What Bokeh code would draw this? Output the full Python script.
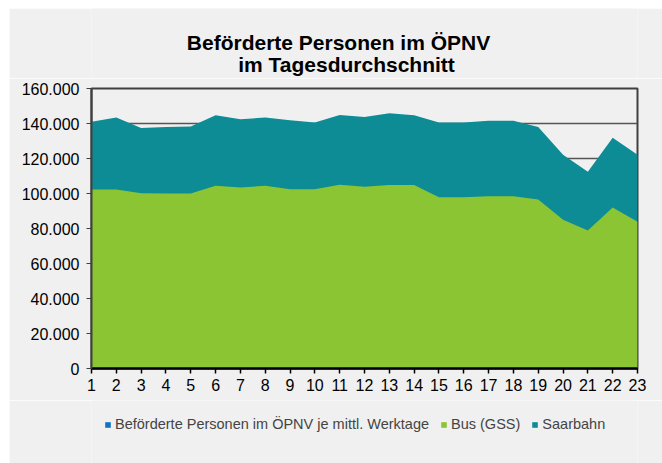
from bokeh.plotting import figure
from bokeh.models import (ColumnDataSource, FixedTicker, Legend, LegendItem, Label, Range1d, Spacer)
from bokeh.layouts import column, row
from bokeh.embed import file_html
from bokeh.resources import INLINE

# ---- data ----
months = list(range(1, 24))
bus = [102.3, 102.3, 100.2, 100.0, 100.0, 104.4, 103.4, 104.4, 102.5, 102.5, 105.0,
       103.8, 104.8, 104.8, 97.8, 97.8, 98.5, 98.5, 96.6, 85.0, 78.8, 92.0, 83.8]
total = [141.0, 143.4, 137.5, 138.0, 138.3, 144.7, 142.5, 143.4, 141.9, 140.6, 144.9,
         143.7, 145.8, 144.7, 140.6, 140.6, 141.6, 141.6, 138.0, 122.1, 112.4, 131.8, 122.1]
bus = [v * 1000 for v in bus]
total = [v * 1000 for v in total]
y_ticks = [0, 20000, 40000, 60000, 80000, 100000, 120000, 140000, 160000]
y_tick_labels = ["0", "20.000", "40.000", "60.000", "80.000", "100.000", "120.000", "140.000", "160.000"]
title_lines = ["Beförderte Personen im ÖPNV", "im Tagesdurchschnitt"]
legend_labels = ["Beförderte Personen im ÖPNV je mittl. Werktage", "Bus (GSS)", "Saarbahn"]

FONT = "Liberation Sans"
BG = "#f0f0f0"
GREEN = "#8cc534"
TEAL = "#0d8c96"
BLUE = "#0f74c4"

src = ColumnDataSource(dict(x=months, bus=bus, total=total, zero=[0] * len(months)))

x_range = Range1d(1, 23)

# ---- title strip ----
tf = figure(width=653, height=70, output_backend="svg", toolbar_location=None,
            x_range=x_range, y_range=Range1d(0, 1),
            min_border_left=0, min_border_right=0, min_border_top=0, min_border_bottom=0)
tf.axis.visible = False
tf.grid.visible = False
tf.outline_line_color = None
tf.background_fill_color = BG
tf.border_fill_color = BG
for line, xoff, yoff in zip(title_lines, [-26, -18], [36, 14]):
    tf.add_layout(Label(x=12, y=0, x_offset=xoff, y_offset=yoff, text=line,
                        text_font=FONT, text_font_size="21px", text_font_style="bold",
                        text_align="center", text_baseline="alphabetic", text_color="black"))

# ---- main chart ----
p = figure(width=653, height=322, output_backend="svg", toolbar_location=None,
           x_range=x_range, y_range=Range1d(0, 160000),
           min_border_left=82, min_border_right=25, min_border_top=10, min_border_bottom=32)
p.background_fill_color = BG
p.border_fill_color = BG
p.outline_line_color = "#404040"
p.outline_line_width = 2

p.xgrid.visible = False
p.ygrid.ticker = FixedTicker(ticks=y_ticks)
p.ygrid.grid_line_color = "#555555"
p.ygrid.grid_line_width = 1.5

r_teal = p.varea(x="x", y1="zero", y2="total", source=src, fill_color=TEAL)
r_bus = p.varea(x="x", y1="zero", y2="bus", source=src, fill_color=GREEN)

p.yaxis.ticker = FixedTicker(ticks=y_ticks)
p.yaxis.major_label_overrides = {t: l for t, l in zip(y_ticks, y_tick_labels)}
p.yaxis.axis_line_color = "#404040"
p.yaxis.axis_line_width = 2
p.yaxis.major_tick_line_color = "#404040"
p.yaxis.major_tick_in = 0
p.yaxis.major_tick_out = 5
p.yaxis.minor_tick_line_color = None
p.yaxis.major_label_standoff = 7
p.xaxis.ticker = FixedTicker(ticks=months)
p.xaxis.axis_line_color = "black"
p.xaxis.axis_line_width = 2.5
p.xaxis.major_tick_line_color = "black"
p.xaxis.major_tick_line_width = 1.5
p.xaxis.major_tick_in = 0
p.xaxis.major_tick_out = 5
p.xaxis.minor_tick_line_color = None
p.xaxis.major_label_standoff = 5
for ax in (p.xaxis, p.yaxis):
    ax.major_label_text_font = FONT
    ax.major_label_text_font_size = "16px"
    ax.major_label_text_color = "black"

# ---- legend strip ----
lg = figure(width=653, height=63, output_backend="svg", toolbar_location=None,
            x_range=Range1d(0, 1), y_range=Range1d(0, 1),
            min_border_left=0, min_border_right=0, min_border_top=0, min_border_bottom=0)
lg.axis.visible = False
lg.grid.visible = False
lg.outline_line_color = None
lg.background_fill_color = BG
lg.border_fill_color = BG
# off-range proxies used only as legend swatches
d_blue = lg.varea(x=[5, 6], y1=[0, 0], y2=[1, 1], fill_color=BLUE)
d_bus = lg.varea(x=[5, 6], y1=[0, 0], y2=[1, 1], fill_color=GREEN)
d_teal = lg.varea(x=[5, 6], y1=[0, 0], y2=[1, 1], fill_color=TEAL)
legend = Legend(items=[LegendItem(label=legend_labels[0], renderers=[d_blue]),
                       LegendItem(label=legend_labels[1], renderers=[d_bus]),
                       LegendItem(label=legend_labels[2], renderers=[d_teal])],
                orientation="horizontal", location=(13, 31),
                background_fill_alpha=0, border_line_color=None,
                label_text_font=FONT, label_text_font_size="14.5px",
                glyph_width=7, glyph_height=7, label_standoff=4, spacing=11,
                padding=0, margin=0)
lg.add_layout(legend, "center")

layout = column(Spacer(height=8), row(Spacer(width=9), column(tf, p, lg)))
open("out.html", "w").write(file_html(layout, INLINE))
